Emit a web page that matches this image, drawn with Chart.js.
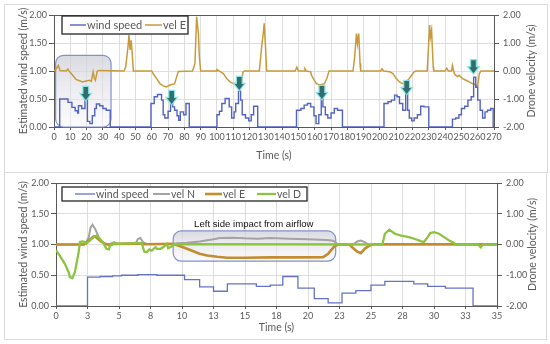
<!DOCTYPE html>
<html>
<head>
<meta charset="utf-8">
<script src="https://cdn.jsdelivr.net/npm/chart.js@4.4.1/dist/chart.umd.min.js"></script>
<style>
  body { margin: 0; background: #fff; }
  .frame { position: absolute; left: 4px; border: 1px solid #d9d9d9; }
  canvas { display: block; }
</style>
</head>
<body>
<div class="frame" style="top:4px;width:542px;height:167px"><canvas id="topChart" width="542" height="167"></canvas></div>
<div class="frame" style="top:172px;width:541px;height:166px"><canvas id="bottomChart" width="541" height="166"></canvas></div>
<script>
// ---- top chart: whole flight, wind speed vs east velocity ----
const topWindT = [0, 3.5, 8.6, 11, 13, 14.5, 15, 17, 19, 20.5, 22, 23.5, 25, 26, 28, 30, 32, 34.5,
  59.5, 61.5, 63.5, 66, 67, 68, 70, 71.5, 72.8, 74, 75.5, 76.5, 77.5, 79.5, 81, 83,
  100, 101.5, 103, 105, 107.5, 109, 110.5, 111.5, 113.2, 114.5, 115.5, 117.5, 119.5, 121, 122.5, 125,
  148.8, 151.5, 153.5, 155.5, 157.5, 159.5, 160.8, 162.5, 164, 165, 166.5, 168, 170, 172, 174, 177,
  202.5, 205, 207, 209, 210.5, 212, 214, 215.8, 217, 218, 219.5, 221, 223, 225, 227, 230,
  244.5, 246.5, 248.5, 250, 252, 254, 256, 257.5, 258.8, 260, 261.5, 263, 264.5, 266, 268, 269.5, 270];
const topWindV = [0, 0.5, 0.44, 0.35, 0.29, 0.25, 0.38, 0.33, 0.56, 0.1, 0.06, 0.2, 0.33, 0.41, 0.38, 0.33, 0.3, 0,
  0.42, 0.54, 0.58, 0.48, 0.22, 0.16, 0.28, 0.41, 0.36, 0.3, 0.2, 0.12, 0.27, 0.22, 0.42, 0,
  0.22, 0.28, 0.42, 0.51, 0.36, 0.16, 0.27, 0.42, 0.64, 0.48, 0.22, 0.16, 0.11, 0.22, 0.37, 0,
  0.3, 0.33, 0.39, 0.42, 0.36, 0.2, 0.06, 0.22, 0.51, 0.36, 0.22, 0.16, 0.25, 0.33, 0.3, 0,
  0.42, 0.45, 0.48, 0.57, 0.54, 0.42, 0.3, 0.6, 0.3, 0.16, 0.11, 0.16, 0.22, 0.37, 0.36, 0,
  0.14, 0.16, 0.22, 0.33, 0.37, 0.48, 0.54, 0.89, 0.71, 0.48, 0.3, 0.16, 0.27, 0.3, 0.33, 0, 0];

const topVelT = [0, 1.5, 2.7, 3.7, 7.5, 8.5, 9.6, 11.5, 13.5, 15.6, 17.6, 19.7, 21.8, 22.9, 24, 24.7, 25.4, 26.5, 27.5,
  43, 44, 45.4, 46, 46.7, 47.3, 48, 48.7, 60, 60.9, 63, 65, 67, 69, 71.2, 74, 75.3, 76.3,
  85, 86.5, 87.5, 88.6, 89.2, 90, 99.5, 100, 101.8, 103.9, 106, 108, 110, 112, 113.7, 115, 116, 117,
  126, 127.4, 128.4, 129, 129.9, 130.5, 148, 149, 150, 153.5, 154, 154.8, 157.5, 158, 159.7, 161, 163, 166, 167.4, 168.8,
  183.5, 184.5, 185.6, 186.2, 187, 187.8, 188.2, 200.5, 201.3, 202.2, 206, 208, 210, 212, 214, 216, 218, 221, 222,
  229, 229.7, 230.5, 231, 231.7, 232.7, 233, 240, 241, 242, 244, 244.5, 245.6, 246.5, 247.6, 248.6, 250.7, 252.8,
  254.8, 256.8, 258.9, 260, 261, 262, 270];
const topVelE = [0, 0.09, 0.2, 0.02, 0, 0.07, -0.03, -0.15, -0.3, -0.35, -0.39, -0.36, -0.33, -0.37, -0.03, -0.25, -0.33, -0.01, 0.02,
  0, 0.15, 0.86, 1.28, 0.75, 1.1, 0.63, 0, 0, -0.1, -0.27, -0.45, -0.53, -0.57, -0.5, -0.45, -0.2, -0.02,
  0, 0.27, 1.94, 1.34, 0.5, 0, 0, 0.05, -0.01, -0.09, -0.27, -0.39, -0.45, -0.45, -0.5, -0.39, -0.03, 0,
  0, 0.86, 1.34, 1.7, 0.75, 0, 0, 0.14, 0, 0, 0.08, 0, -0.03, -0.15, -0.33, -0.45, -0.5, -0.45, -0.27, 0,
  0, 0.5, 1.34, 0.98, 1.34, 0.27, 0, 0, 0.08, 0, -0.03, -0.09, -0.27, -0.39, -0.45, -0.39, -0.27, -0.03, 0,
  0, 0.75, 1.64, 1.22, 1.46, 0.15, 0, 0, 0.1, 0, 0, 0.2, -0.09, -0.15, -0.2, -0.15, -0.27, -0.33,
  -0.39, -0.45, -0.5, -0.54, -0.09, 0, 0];

// arrows marking the wind peaks (time, wind speed at tip)
const arrowT = [19.5, 72.2, 113.7, 164.4, 216.4, 257.4];
const arrowV = [0.48, 0.41, 0.66, 0.5, 0.59, 0.96];

// ---- bottom chart: one run, zoomed ----
const botWindT = [0, 2.5, 3.5, 4.5, 5.2, 6.5, 8, 10.2, 11.4, 12.5, 13.6, 15.9, 17, 18, 19.2, 20.5, 21.6, 22.7, 23.8, 25, 26.1, 28.4, 29.5, 30.9, 33.1, 35];
const botWindV = [0, 0.47, 0.48, 0.49, 0.5, 0.51, 0.5, 0.43, 0.31, 0.24, 0.36, 0.32, 0.34, 0.48, 0.29, 0.12, 0.05, 0.21, 0.25, 0.34, 0.4, 0.36, 0.32, 0.29, 0, 0];

const velNT = [0, 2.2, 2.4, 2.6, 2.75, 2.9, 3.1, 3.4, 3.6, 4.0, 4.3, 4.6, 4.8, 6.3, 6.5, 6.7, 6.9, 7.2, 9.3, 9.6, 10.4, 11.4, 12.5, 13, 14, 15, 16, 17, 18.5, 20, 21.5, 22, 22.4, 23.6, 23.9, 24.2, 24.5, 24.8, 35];
const velN = [0, 0, 0.08, 0.24, 0.56, 0.64, 0.51, 0.24, 0.08, 0.02, 0.02, 0.08, 0.02, 0.02, 0.18, 0.21, 0.08, 0.02, 0.02, 0.04, 0.06, 0.1, 0.17, 0.21, 0.22, 0.2, 0.19, 0.21, 0.19, 0.17, 0.15, 0.12, 0, 0, 0.1, 0.13, 0.08, 0, 0];

const velET = [0, 2.2, 2.4, 2.7, 3.0, 3.2, 3.5, 3.9, 4.3, 4.6, 6.6, 7.0, 9.3, 9.8, 10.4, 10.9, 11.4, 12, 12.8, 13.6, 15, 17, 19, 21.2, 21.6, 21.8, 22.1, 22.4, 23.3, 23.5, 23.9, 24.2, 24.5, 24.9, 25.2, 35];
const velE = [0, 0, 0.05, 0.16, 0.27, 0.23, 0.12, 0.02, -0.03, 0.02, 0.03, 0.01, 0.02, -0.05, -0.14, -0.22, -0.3, -0.36, -0.4, -0.43, -0.43, -0.42, -0.42, -0.41, -0.3, -0.2, -0.06, 0, 0, -0.09, -0.23, -0.28, -0.14, -0.03, 0.01, 0.01];

const velDT = [0, 0.3, 0.7, 1.0, 1.1, 1.3, 1.5, 1.65, 1.8, 1.9, 2.1, 2.3, 2.4, 2.7, 3.0, 3.2, 3.5, 3.8, 4.0, 4.2, 4.3, 4.6, 5, 6.8, 7.0, 7.2, 7.4, 7.6, 7.9, 8.0, 8.3, 8.5, 8.8, 8.9, 9.2, 9.3,
  25.9, 26.1, 26.45, 26.9, 27.4, 28, 28.5, 29, 29.2, 29.5, 29.7, 30, 30.4, 30.8, 31.2, 31.6, 31.7, 33.5, 33.7, 33.9, 35];
const velD = [-0.19, -0.36, -0.63, -0.9, -1.06, -1.09, -0.9, -0.57, -0.25, 0.08, 0.1, 0.08, 0.02, 0.13, 0.24, 0.29, 0.18, 0.02, -0.14, -0.16, -0.03, 0.04, 0.02, 0.05, -0.23, -0.25, -0.16, -0.2, -0.09, -0.14, -0.14, -0.09, 0.02, -0.12, -0.06, 0.01,
  0.0, 0.35, 0.48, 0.35, 0.29, 0.24, 0.18, 0.1, 0.08, 0.24, 0.37, 0.4, 0.35, 0.24, 0.13, 0.05, 0, 0, -0.09, 0, 0];

const botTickLabels = ['0', '3', '5', '8', '10', '13', '15', '18', '20', '23', '25', '28', '30', '33', '35'];

const pts = (ts, vs) => ts.map((t, i) => ({ x: t, y: vs[i] }));

const sans = "Lato, 'Liberation Sans', sans-serif";
Chart.defaults.font.family = sans;
Chart.defaults.color = '#595959';

function roundRect(ctx, x, y, w, h, r) {
  ctx.beginPath();
  ctx.moveTo(x + r, y);
  ctx.arcTo(x + w, y, x + w, y + h, r);
  ctx.arcTo(x + w, y + h, x, y + h, r);
  ctx.arcTo(x, y + h, x, y, r);
  ctx.arcTo(x, y, x + w, y, r);
  ctx.closePath();
}

// highlight box, arrows, framed legend, right title, note
const extras = {
  id: 'extras',
  beforeDatasetsDraw(chart, args, opts) {
    const { ctx, scales: { x, y } } = chart;
    const b = opts.box;
    if (!b) return;
    const l = x.getPixelForValue(b.x0), r = x.getPixelForValue(b.x1);
    const t = y.getPixelForValue(b.y1), btm = y.getPixelForValue(b.y0);
    ctx.save();
    const g = ctx.createLinearGradient(0, t, 0, btm);
    g.addColorStop(0, 'rgba(205,205,215,0.75)');
    g.addColorStop(1, 'rgba(245,245,250,0.4)');
    roundRect(ctx, l, t, r - l, btm - t, 8);
    ctx.fillStyle = g;
    ctx.fill();
    ctx.strokeStyle = '#8290cc';
    ctx.lineWidth = 1.2;
    ctx.stroke();
    ctx.restore();
  },
  afterDatasetsDraw(chart, args, opts) {
    const { ctx, scales: { x, y } } = chart;
    (opts.arrows || []).forEach(a => {
      const px = x.getPixelForValue(a.t), py = y.getPixelForValue(a.v);
      ctx.save();
      ctx.beginPath();
      ctx.moveTo(px - 2.3, py - 13);
      ctx.lineTo(px + 2.3, py - 13);
      ctx.lineTo(px + 2.3, py - 6);
      ctx.lineTo(px + 4.5, py - 6);
      ctx.lineTo(px, py);
      ctx.lineTo(px - 4.5, py - 6);
      ctx.lineTo(px - 2.3, py - 6);
      ctx.closePath();
      ctx.strokeStyle = 'rgba(130,225,225,0.9)';
      ctx.lineWidth = 2.5;
      ctx.stroke();
      ctx.fillStyle = '#2f6e6c';
      ctx.fill();
      ctx.restore();
    });
  },
  afterDraw(chart, args, opts) {
    const { ctx, chartArea, scales: { x, y } } = chart;
    ctx.save();
    const lg = opts.legend;
    if (lg) {
      ctx.fillStyle = '#fff';
      ctx.fillRect(lg.x, lg.y, lg.w, lg.h);
      ctx.strokeStyle = '#262626';
      ctx.lineWidth = 1.3;
      ctx.strokeRect(lg.x, lg.y, lg.w, lg.h);
      ctx.font = lg.size + 'px ' + sans;
      ctx.textBaseline = 'middle';
      ctx.fillStyle = '#595959';
      const cy = lg.y + lg.h / 2;
      chart.data.datasets.forEach((ds, i) => {
        const it = lg.items[i];
        ctx.strokeStyle = ds.borderColor;
        ctx.lineWidth = ds.borderWidth;
        ctx.beginPath();
        ctx.moveTo(it[0], cy);
        ctx.lineTo(it[1], cy);
        ctx.stroke();
        ctx.fillText(ds.label, it[1] + 1, cy + 0.5);
      });
    }
    if (opts.note) {
      ctx.font = '9.6px "Liberation Sans", Arial, sans-serif';
      ctx.fillStyle = '#111';
      ctx.textAlign = 'center';
      ctx.textBaseline = 'middle';
      ctx.fillText(opts.note.text, x.getPixelForValue(opts.note.t), y.getPixelForValue(opts.note.v));
    }
    if (opts.rightTitle) {
      ctx.translate(opts.rightTitle.x, (chartArea.top + chartArea.bottom) / 2);
      ctx.rotate(-Math.PI / 2);
      ctx.font = '10.5px ' + sans;
      ctx.fillStyle = '#595959';
      ctx.textAlign = 'center';
      ctx.textBaseline = 'middle';
      ctx.fillText(opts.rightTitle.text, 0, 0);
    }
    ctx.restore();
  }
};

function axes(cfg) {
  return {
    x: {
      type: 'linear', min: 0, max: cfg.xMax,
      ticks: { stepSize: cfg.xStep, font: { size: 9 }, padding: 2, maxRotation: 0, autoSkip: false, callback: cfg.xLabel },
      grid: { color: '#dedede', tickLength: 3, tickColor: '#595959' },
      border: { color: '#595959' },
      title: { display: true, text: 'Time (s)', font: { size: 10.5 }, padding: { top: 0, bottom: cfg.titlePad } },
      afterFit: s => { s.height = cfg.xH; }
    },
    y: {
      min: 0, max: 2,
      ticks: { stepSize: 0.5, font: { size: 9 }, padding: 2, callback: v => v.toFixed(2) },
      grid: { color: c => c.tick && c.tick.value === 2 ? '#595959' : '#dedede', tickLength: 5, tickColor: '#595959' },
      border: { color: '#595959' },
      title: { display: true, text: 'Estimated wind speed (m/s)', font: { size: 10.5 }, padding: { top: 12, bottom: 0 } },
      afterFit: s => { s.width = cfg.leftW; }
    },
    y1: {
      position: 'right', min: -2, max: 2,
      ticks: { stepSize: 1, font: { size: 9 }, padding: 4, callback: v => v.toFixed(2) },
      grid: { drawOnChartArea: false, tickLength: 5, tickColor: '#595959' },
      border: { color: '#595959' },
      afterFit: s => { s.width = cfg.rightW; }
    }
  };
}

new Chart(document.getElementById('topChart').getContext('2d'), {
  type: 'line',
  data: {
    datasets: [
      { label: 'wind speed', data: pts(topWindT, topWindV), yAxisID: 'y', stepped: true,
        borderColor: '#5363c2', borderWidth: 1.4, pointRadius: 0 },
      { label: 'vel E', data: pts(topVelT, topVelE), yAxisID: 'y1',
        borderColor: '#c99a3c', borderWidth: 1.5, pointRadius: 0 }
    ]
  },
  options: {
    responsive: false,
    animation: false,
    layout: { padding: { top: 10 } },
    scales: axes({ xMax: 270, xStep: 10, xH: 45, titlePad: 10.5, leftW: 49, rightW: 53 }),
    plugins: {
      legend: { display: false },
      tooltip: { enabled: false },
      extras: {
        box: { x0: 1, x1: 35, y0: 0, y1: 1.28 },
        arrows: arrowT.map((t, i) => ({ t: t, v: arrowV[i] })),
        legend: { x: 57, y: 11, w: 126, h: 18, size: 11, items: [[65, 81], [140, 157]] },
        rightTitle: { text: 'Drone velocity (m/s)', x: 527 }
      }
    }
  },
  plugins: [extras]
});

new Chart(document.getElementById('bottomChart').getContext('2d'), {
  type: 'line',
  data: {
    datasets: [
      { label: 'wind speed', data: pts(botWindT, botWindV), yAxisID: 'y', stepped: true,
        borderColor: '#6472c9', borderWidth: 1.3, pointRadius: 0, order: 4 },
      { label: 'vel N', data: pts(velNT, velN), yAxisID: 'y1',
        borderColor: '#a3a3a3', borderWidth: 2, pointRadius: 0, order: 3 },
      { label: 'vel E', data: pts(velET, velE), yAxisID: 'y1',
        borderColor: '#c38d2f', borderWidth: 2.6, pointRadius: 0, order: 2 },
      { label: 'vel D', data: pts(velDT, velD), yAxisID: 'y1',
        borderColor: '#8cc43e', borderWidth: 2.3, pointRadius: 0, order: 1 }
    ]
  },
  options: {
    responsive: false,
    animation: false,
    layout: { padding: { top: 10 } },
    scales: axes({ xMax: 35, xStep: 2.5, xH: 33, titlePad: 5, leftW: 51, rightW: 49,
      xLabel: (v, i) => botTickLabels[i] }),
    plugins: {
      legend: { display: false },
      tooltip: { enabled: false },
      extras: {
        box: { x0: 9.3, x1: 22.2, y0: 0.73, y1: 1.22 },
        note: { text: 'Left side impact from airflow', t: 15.7, v: 1.33 },
        legend: { x: 57, y: 14, w: 245, h: 14, size: 10.5, items: [[70, 90], [148, 165], [200, 217], [252, 271]] },
        rightTitle: { text: 'Drone velocity (m/s)', x: 528 }
      }
    }
  },
  plugins: [extras]
});
</script>
</body>
</html>
